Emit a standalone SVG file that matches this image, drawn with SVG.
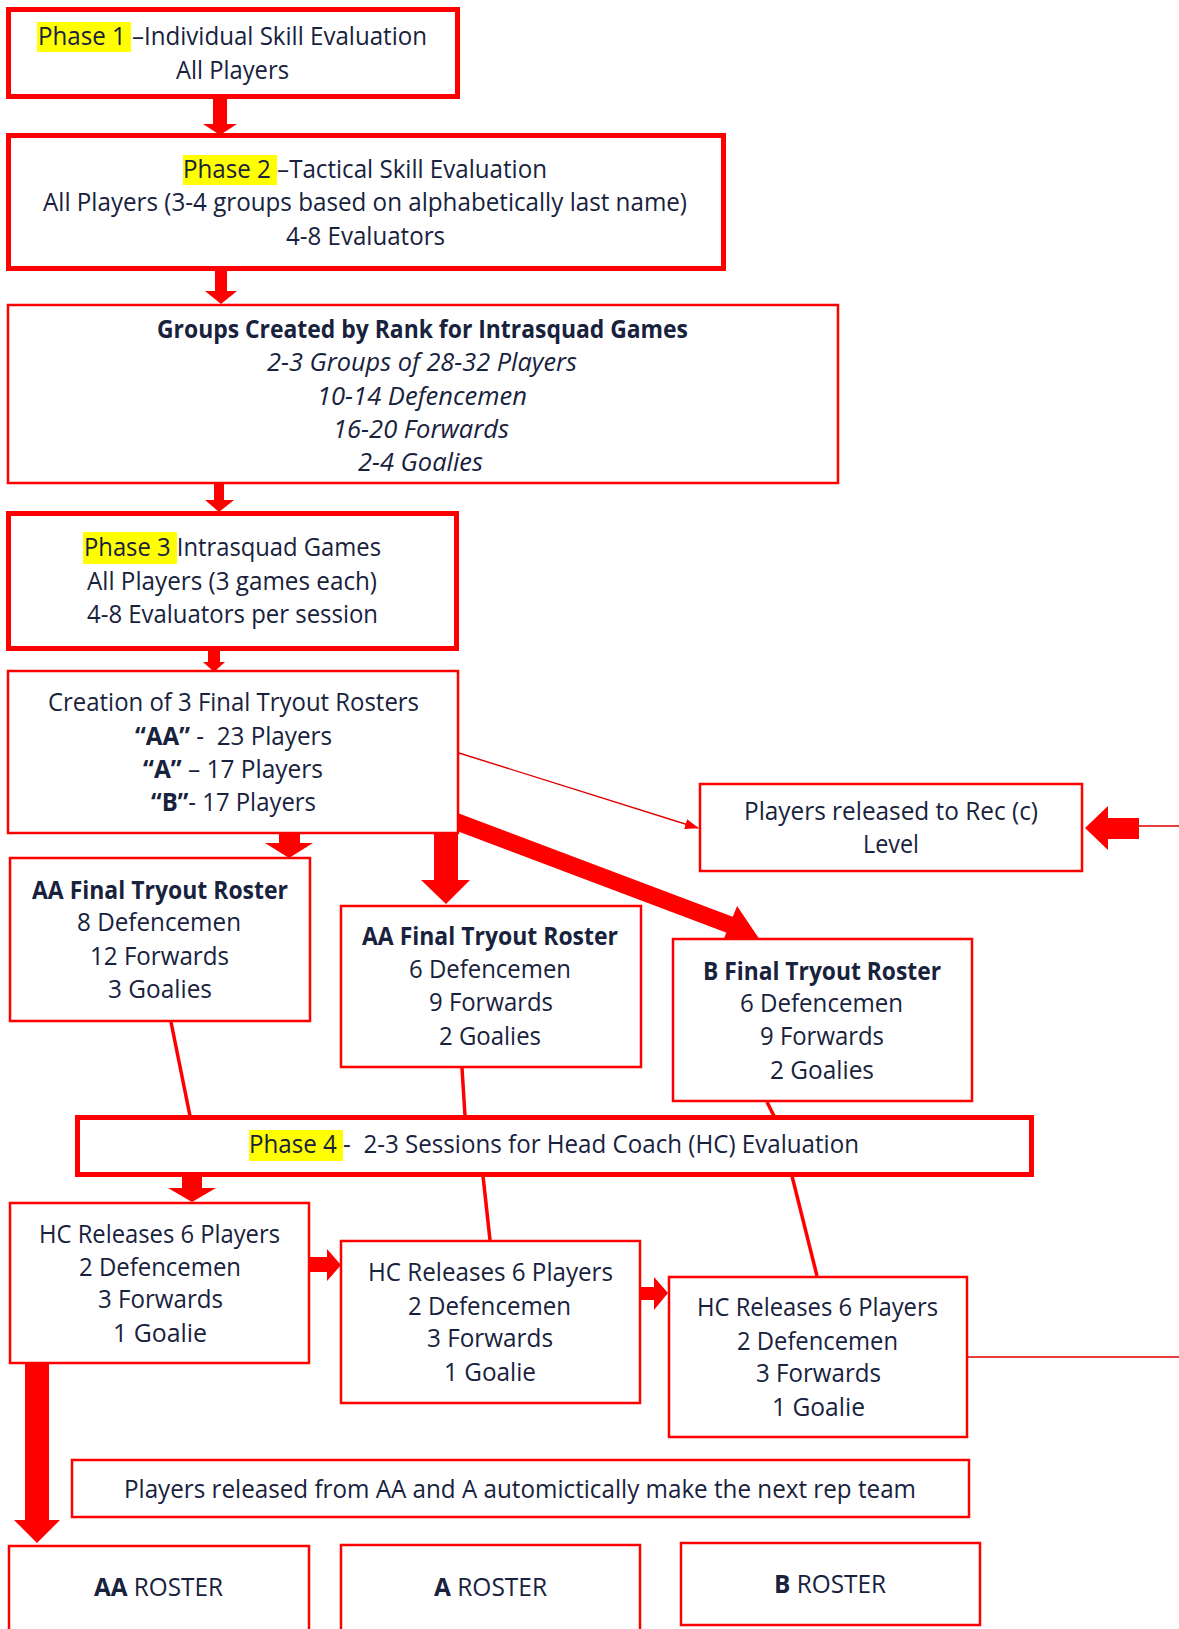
<svg xmlns="http://www.w3.org/2000/svg" width="1179" height="1629" viewBox="0 0 1179 1629">
<style>
.bg{fill:#ffffff}
.thick{fill:#ffffff;stroke:#ff0000;stroke-width:5}
.thin{fill:#ffffff;stroke:#ff0000;stroke-width:2.5}
.arr{fill:#ff0000;stroke:none}
.ln{stroke:#ff0000;stroke-width:3.5;fill:none}
.hair{stroke:#e00000;stroke-width:1.4;fill:none}
.hl{fill:#ffff00}
text{font-family:"Open Sans","Noto Sans","Liberation Sans",sans-serif;font-size:25px;fill:#18223d}
.b{font-weight:bold}
.i{font-style:italic}
</style>
<defs>
<marker id="tri" markerWidth="14" markerHeight="10" refX="13" refY="5" orient="auto" markerUnits="userSpaceOnUse">
<path d="M0,0 L14,5 L0,10 Z" fill="#ff0000"/>
</marker>
</defs>
<rect class="bg" x="0" y="0" width="1179" height="1629"/>

<g id="connectors">
<polygon class="arr" points="213,97 227,97 227,124 237,124 220,135 203,124 213,124"/>
<polygon class="arr" points="215,269 227,269 227,291 237,291 221,304 205,291 215,291"/>
<polygon class="arr" points="214,482 224,482 224,500 234,500 219,512 205,500 214,500"/>
<polygon class="arr" points="208,649 220,649 220,662 225,662 214,672 203,662 208,662"/>
<polygon class="arr" points="279,832 300,832 300,843 313,843 289,858 265,843 279,843"/>
<polygon class="arr" points="434,832 458,832 458,880 470,880 446,904 421,880 434,880"/>
<line class="ln" x1="452" y1="820" x2="733" y2="926" style="stroke-width:17"/>
<polygon class="arr" points="760,940 720.7,946.6 737.1,906.0"/>
<line class="hair" x1="459" y1="753" x2="698" y2="828" marker-end="url(#tri)"/>
<polygon class="arr" points="1085,828 1108,806 1108,818 1139,818 1139,839 1108,839 1108,850"/>
<line class="hair" x1="1139" y1="826" x2="1179" y2="826"/>
<line class="ln" x1="171" y1="1022" x2="190" y2="1116"/>
<line class="ln" x1="462" y1="1068" x2="465" y2="1116"/>
<line class="ln" x1="767" y1="1102" x2="774" y2="1116"/>
<polygon class="arr" points="182,1176 202,1176 202,1188 216,1188 192,1202 168,1188 182,1188"/>
<line class="ln" x1="483" y1="1176" x2="490" y2="1240"/>
<line class="ln" x1="792" y1="1176" x2="817" y2="1276"/>
<polygon class="arr" points="310,1257 327,1257 327,1249 341,1265 327,1281 327,1272 310,1272"/>
<polygon class="arr" points="640,1287 654,1287 654,1277 668,1293 654,1310 654,1300 640,1300"/>
<line class="hair" x1="968" y1="1357" x2="1179" y2="1357"/>
<polygon class="arr" points="25,1363 49,1363 49,1520 60,1520 37,1543 14,1520 25,1520"/>
</g>

<g id="phase1">
<rect class="thick" x="8.5" y="9.5" width="449" height="87"/>
<rect class="hl" x="37" y="22" width="94" height="30"/>
<text x="38" y="45" textLength="389" lengthAdjust="spacingAndGlyphs">Phase 1 –Individual Skill Evaluation</text>
<text x="176" y="79" textLength="113" lengthAdjust="spacingAndGlyphs">All Players</text>
</g>

<g id="phase2">
<rect class="thick" x="8.5" y="135.5" width="715" height="133"/>
<rect class="hl" x="183" y="155" width="94" height="30"/>
<text x="183" y="178" textLength="364" lengthAdjust="spacingAndGlyphs">Phase 2 –Tactical Skill Evaluation</text>
<text x="43" y="211" textLength="644" lengthAdjust="spacingAndGlyphs">All Players (3-4 groups based on alphabetically last name)</text>
<text x="286" y="245" textLength="159" lengthAdjust="spacingAndGlyphs">4-8 Evaluators</text>
</g>

<g id="groups">
<rect class="thin" x="8" y="305" width="830" height="178"/>
<text class="b" x="157" y="338" textLength="531" lengthAdjust="spacingAndGlyphs">Groups Created by Rank for Intrasquad Games</text>
<text class="i" x="267" y="371" textLength="310" lengthAdjust="spacingAndGlyphs">2-3 Groups of 28-32 Players</text>
<text class="i" x="317" y="405" textLength="210" lengthAdjust="spacingAndGlyphs">10-14 Defencemen</text>
<text class="i" x="333" y="438" textLength="176" lengthAdjust="spacingAndGlyphs">16-20 Forwards</text>
<text class="i" x="358" y="471" textLength="125" lengthAdjust="spacingAndGlyphs">2-4 Goalies</text>
</g>

<g id="phase3">
<rect class="thick" x="8.5" y="513.5" width="448" height="135"/>
<rect class="hl" x="83" y="532" width="94" height="32"/>
<text x="84" y="556" textLength="297" lengthAdjust="spacingAndGlyphs">Phase 3 Intrasquad Games</text>
<text x="87" y="590" textLength="290" lengthAdjust="spacingAndGlyphs">All Players (3 games each)</text>
<text x="87" y="623" textLength="291" lengthAdjust="spacingAndGlyphs">4-8 Evaluators per session</text>
</g>

<g id="creation">
<rect class="thin" x="8" y="671" width="450" height="162"/>
<text x="48" y="711" textLength="371" lengthAdjust="spacingAndGlyphs">Creation of 3 Final Tryout Rosters</text>
<text x="135" y="745" textLength="197" lengthAdjust="spacingAndGlyphs"><tspan class="b">“AA”</tspan> -&#160; 23 Players</text>
<text x="143" y="778" textLength="180" lengthAdjust="spacingAndGlyphs"><tspan class="b">“A”</tspan> – 17 Players</text>
<text x="151" y="811" textLength="165" lengthAdjust="spacingAndGlyphs"><tspan class="b">“B”</tspan>- 17 Players</text>
</g>

<g id="rec-release">
<rect class="thin" x="700" y="784" width="382" height="87"/>
<text x="744" y="820" textLength="294" lengthAdjust="spacingAndGlyphs">Players released to Rec (c)</text>
<text x="863" y="853" textLength="56" lengthAdjust="spacingAndGlyphs">Level</text>
</g>

<g id="aa-final-1">
<rect class="thin" x="10" y="858" width="300" height="163"/>
<text class="b" x="32" y="899" textLength="256" lengthAdjust="spacingAndGlyphs">AA Final Tryout Roster</text>
<text x="77" y="931" textLength="164" lengthAdjust="spacingAndGlyphs">8 Defencemen</text>
<text x="90" y="965" textLength="139" lengthAdjust="spacingAndGlyphs">12 Forwards</text>
<text x="108" y="998" textLength="104" lengthAdjust="spacingAndGlyphs">3 Goalies</text>
</g>

<g id="aa-final-2">
<rect class="thin" x="341" y="906" width="300" height="161"/>
<text class="b" x="362" y="945" textLength="256" lengthAdjust="spacingAndGlyphs">AA Final Tryout Roster</text>
<text x="409" y="978" textLength="162" lengthAdjust="spacingAndGlyphs">6 Defencemen</text>
<text x="429" y="1011" textLength="124" lengthAdjust="spacingAndGlyphs">9 Forwards</text>
<text x="439" y="1045" textLength="102" lengthAdjust="spacingAndGlyphs">2 Goalies</text>
</g>

<g id="b-final">
<rect class="thin" x="673" y="939" width="299" height="162"/>
<text class="b" x="703" y="980" textLength="238" lengthAdjust="spacingAndGlyphs">B Final Tryout Roster</text>
<text x="740" y="1012" textLength="163" lengthAdjust="spacingAndGlyphs">6 Defencemen</text>
<text x="760" y="1045" textLength="124" lengthAdjust="spacingAndGlyphs">9 Forwards</text>
<text x="770" y="1079" textLength="104" lengthAdjust="spacingAndGlyphs">2 Goalies</text>
</g>

<g id="phase4">
<rect class="thick" x="77.5" y="1117.5" width="954" height="57"/>
<rect class="hl" x="249" y="1130" width="94" height="31"/>
<text x="249" y="1153" textLength="610" lengthAdjust="spacingAndGlyphs">Phase 4 -&#160; 2-3 Sessions for Head Coach (HC) Evaluation</text>
</g>

<g id="hc-release-1">
<rect class="thin" x="10" y="1203" width="299" height="160"/>
<text x="39" y="1243" textLength="241" lengthAdjust="spacingAndGlyphs">HC Releases 6 Players</text>
<text x="79" y="1276" textLength="162" lengthAdjust="spacingAndGlyphs">2 Defencemen</text>
<text x="98" y="1308" textLength="125" lengthAdjust="spacingAndGlyphs">3 Forwards</text>
<text x="113" y="1342" textLength="94" lengthAdjust="spacingAndGlyphs">1 Goalie</text>
</g>

<g id="hc-release-2">
<rect class="thin" x="341" y="1241" width="299" height="162"/>
<text x="368" y="1281" textLength="245" lengthAdjust="spacingAndGlyphs">HC Releases 6 Players</text>
<text x="408" y="1315" textLength="163" lengthAdjust="spacingAndGlyphs">2 Defencemen</text>
<text x="427" y="1347" textLength="126" lengthAdjust="spacingAndGlyphs">3 Forwards</text>
<text x="444" y="1381" textLength="92" lengthAdjust="spacingAndGlyphs">1 Goalie</text>
</g>

<g id="hc-release-3">
<rect class="thin" x="669" y="1277" width="298" height="160"/>
<text x="697" y="1316" textLength="241" lengthAdjust="spacingAndGlyphs">HC Releases 6 Players</text>
<text x="737" y="1350" textLength="161" lengthAdjust="spacingAndGlyphs">2 Defencemen</text>
<text x="756" y="1382" textLength="125" lengthAdjust="spacingAndGlyphs">3 Forwards</text>
<text x="772" y="1416" textLength="93" lengthAdjust="spacingAndGlyphs">1 Goalie</text>
</g>

<g id="note">
<rect class="thin" x="72" y="1460" width="897" height="57"/>
<text x="124" y="1498" textLength="792" lengthAdjust="spacingAndGlyphs">Players released from AA and A automictically make the next rep team</text>
</g>

<g id="aa-roster">
<rect class="thin" x="9" y="1546" width="300" height="100"/>
<text x="94" y="1596" textLength="129" lengthAdjust="spacingAndGlyphs"><tspan class="b">AA</tspan> ROSTER</text>
</g>

<g id="a-roster">
<rect class="thin" x="341" y="1545" width="299" height="100"/>
<text x="434" y="1596" textLength="113" lengthAdjust="spacingAndGlyphs"><tspan class="b">A</tspan> ROSTER</text>
</g>

<g id="b-roster">
<rect class="thin" x="681" y="1543" width="299" height="82"/>
<text x="774" y="1593" textLength="112" lengthAdjust="spacingAndGlyphs"><tspan class="b">B</tspan> ROSTER</text>
</g>
</svg>
